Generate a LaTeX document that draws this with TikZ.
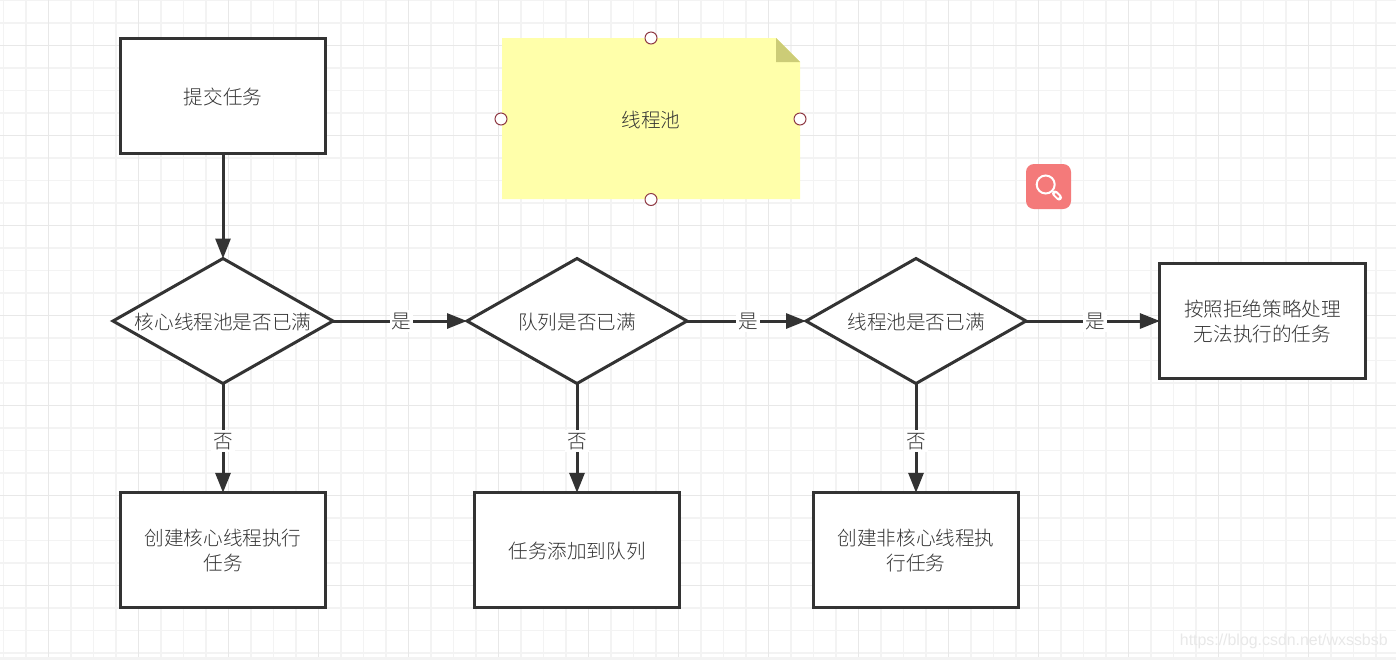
\documentclass[tikz,border=0pt]{standalone}
\usepackage{fontspec}
\setmainfont{Noto Sans CJK SC}[UprightFont=* Light]
\newfontfamily\wmfont{Liberation Sans}
\usetikzlibrary{shapes.geometric,arrows.meta}
\definecolor{ink}{HTML}{333333}
\definecolor{gridminor}{HTML}{F3F3F3}
\definecolor{gridmajor}{HTML}{E8E8E8}
\definecolor{notefill}{HTML}{FFFFAA}
\definecolor{notefold}{HTML}{CCCC77}
\definecolor{handlec}{HTML}{8F3A44}
\definecolor{iconc}{HTML}{F47A7A}
\newcommand{\lowr}[1]{\raisebox{-0.6pt}[\height][\depth]{#1}}
\tikzset{
  x=0.5pt,y=-0.5pt,
  txt/.style={text=ink,font=\fontsize{9.8pt}{12.5pt}\selectfont,align=center},
  boxn/.style={txt,draw=ink,line width=1.5pt,fill=white,rectangle,minimum width=102.6pt,minimum height=57.5pt,inner sep=0pt,outer sep=0pt},
  dec/.style={txt,draw=ink,line width=1.5pt,fill=white,diamond,minimum width=110pt,minimum height=62.5pt,inner sep=0pt,outer sep=0pt,aspect=1.76},
  flow/.style={draw=ink,line width=1.5pt,-{Triangle[length=10pt,width=7.5pt]}},
  lab/.style={txt,fill=white,inner sep=1pt,minimum width=11.5pt,minimum height=11pt},
  handle/.style={circle,draw=handlec,line width=0.5pt,fill=white,minimum size=6pt,inner sep=0pt},
}
\begin{document}
\begin{tikzpicture}
\useasboundingbox (0,0) rectangle (1396,660);
\fill[white] (0,0) rectangle (1396,660);
% grid
\foreach \i in {0,...,61} {\draw[gridminor,line width=0.75pt] ({3.7+22.5*\i},0) -- ({3.7+22.5*\i},657);}
\foreach \j in {0,...,29} {\draw[gridminor,line width=0.75pt] (0,{0.5+22.5*\j}) -- (1396,{0.5+22.5*\j});}
\foreach \i in {0,...,15} {\draw[gridmajor,line width=0.75pt] ({48.7+90*\i},0) -- ({48.7+90*\i},657);}
\foreach \j in {0,...,6} {\draw[gridmajor,line width=0.75pt] (0,{45.5+90*\j}) -- (1396,{45.5+90*\j});}
\fill[gridminor] (0,657) rectangle (1396,660);
% note
\fill[notefill] (502,38) -- (776,38) -- (800,62) -- (800,199) -- (502,199) -- cycle;
\fill[notefold] (776,38) -- (800,62) -- (776,62) -- cycle;
\node[txt] (note) at (651,119) {\lowr{线程池}};
\node[handle] (ht) at (651,38) {};
\node[handle] (hb) at (651,199.5) {};
\node[handle] (hl) at (501,119) {};
\node[handle] (hr) at (800,119) {};
% icon
\node[fill=iconc,rounded corners=4pt,minimum size=22.5pt,inner sep=0pt] (icon) at (1048.5,186.5) {};
\draw[white,line width=1pt] (1045.7,184.5) circle (9);
\draw[white,line width=3pt,line cap=round] (1055,193.5) -- (1059,197.5);
\draw[iconc,line width=1pt,line cap=round] (1055.5,194) -- (1058.5,197);
% nodes
\node[boxn] (submit) at (223,96) {\lowr{提交任务}};
\node[dec] (d1) at (223,321) {\lowr{核心线程池是否已满}};
\node[dec] (d2) at (577,321) {\lowr{队列是否已满}};
\node[dec] (d3) at (916,321) {\lowr{线程池是否已满}};
\node[boxn] (reject) at (1262.5,321) {按照拒绝策略处理\\无法执行的任务};
\node[boxn] (b1) at (223,550.3) {创建核心线程执行\\任务};
\node[boxn] (b2) at (577,550.3) {\lowr{任务添加到队列}};
\node[boxn] (b3) at (916,550.3) {创建非核心线程执\\行任务};
% connectors
\draw[flow] (submit) -- (d1);
\draw[flow] (d1) -- node[lab,pos=0.51] {是} (d2);
\draw[flow] (d2) -- node[lab,pos=0.515] {是} (d3);
\draw[flow] (d3) -- node[lab,pos=0.515] {是} (reject);
\draw[flow] (d1) -- node[lab,pos=0.53] {否} (b1);
\draw[flow] (d2) -- node[lab,pos=0.53] {否} (b2);
\draw[flow] (d3) -- node[lab,pos=0.53] {否} (b3);
% watermark
\node[text=gridmajor,font=\wmfont\fontsize{7.95pt}{10pt}\selectfont,anchor=east,inner sep=0pt] (wm) at (1388,641) {https://blog.csdn.net/wxssbsb};
\end{tikzpicture}
\end{document}
